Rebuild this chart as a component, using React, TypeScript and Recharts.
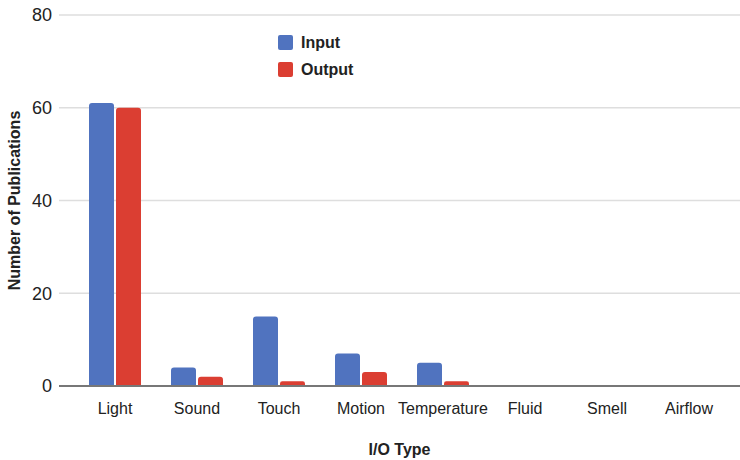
import React from 'react';
import { BarChart, Bar, XAxis, YAxis, CartesianGrid, Legend, ReferenceLine } from 'recharts';

const categories = ['Light', 'Sound', 'Touch', 'Motion', 'Temperature', 'Fluid', 'Smell', 'Airflow'];
const inputValues = [61, 4, 15, 7, 5, 0, 0, 0];
const outputValues = [60, 2, 1, 3, 1, 0, 0, 0];
const yTicks = [0, 20, 40, 60, 80];

const data = categories.map((c, i) => ({ name: c, Input: inputValues[i], Output: outputValues[i] }));

const FONT = '"Liberation Sans", Arial, Helvetica, sans-serif';
const BLUE = '#5073bf';
const RED = '#db3e32';

const renderLegend = (props: any) => {
  const { payload } = props;
  return (
    <div style={{ fontFamily: FONT }}>
      {payload.map((p: any) => (
        <div key={p.value} style={{ display: 'flex', alignItems: 'center', height: 27 }}>
          <div style={{ width: 15, height: 15, background: p.color, borderRadius: 2, marginRight: 8 }} />
          <span style={{ fontSize: 16, fontWeight: 'bold', color: '#222' }}>{p.value}</span>
        </div>
      ))}
    </div>
  );
};

export default function App() {
  return (
    <div style={{ position: 'absolute', left: 0, top: 0, width: 740, height: 460, background: '#fff' }}>
      <BarChart
        width={740}
        height={460}
        data={data}
        margin={{ top: 15, right: 0, bottom: 0, left: 0 }}
        barGap={2}
        barSize={25}
      >
        <CartesianGrid vertical={false} stroke="#dedede" strokeWidth={1.5} />
        <XAxis
          dataKey="name"
          height={74}
          padding={{ left: 15, right: 10 }}
          axisLine={false}
          tickLine={false}
          tick={{ fontSize: 16, fill: '#222', fontFamily: FONT }}
          tickMargin={11}
          interval={0}
          label={{ value: 'I/O Type', position: 'insideBottom', offset: 5, style: { fontSize: 16, fontWeight: 'bold', fill: '#222', fontFamily: FONT } }}
        />
        <YAxis
          width={59}
          domain={[0, 80]}
          ticks={yTicks}
          axisLine={false}
          tickLine={false}
          tickSize={0}
          tickMargin={7}
          tick={{ fontSize: 18, fill: '#222', fontFamily: FONT }}
          label={{ value: 'Number of Publications', angle: -90, position: 'insideLeft', offset: 14, style: { textAnchor: 'middle', fontSize: 16, fontWeight: 'bold', fill: '#222', fontFamily: FONT } }}
        />
        <Legend
          verticalAlign="middle"
          align="center"
          layout="vertical"
          content={renderLegend}
          wrapperStyle={{ left: 278, top: 29, width: 120 }}
        />
        <Bar dataKey="Input" fill={BLUE} radius={[3, 3, 0, 0]} isAnimationActive={false} />
        <Bar dataKey="Output" fill={RED} radius={[3, 3, 0, 0]} isAnimationActive={false} />
        <ReferenceLine y={0} stroke="#777" strokeWidth={2} />
      </BarChart>
    </div>
  );
}
